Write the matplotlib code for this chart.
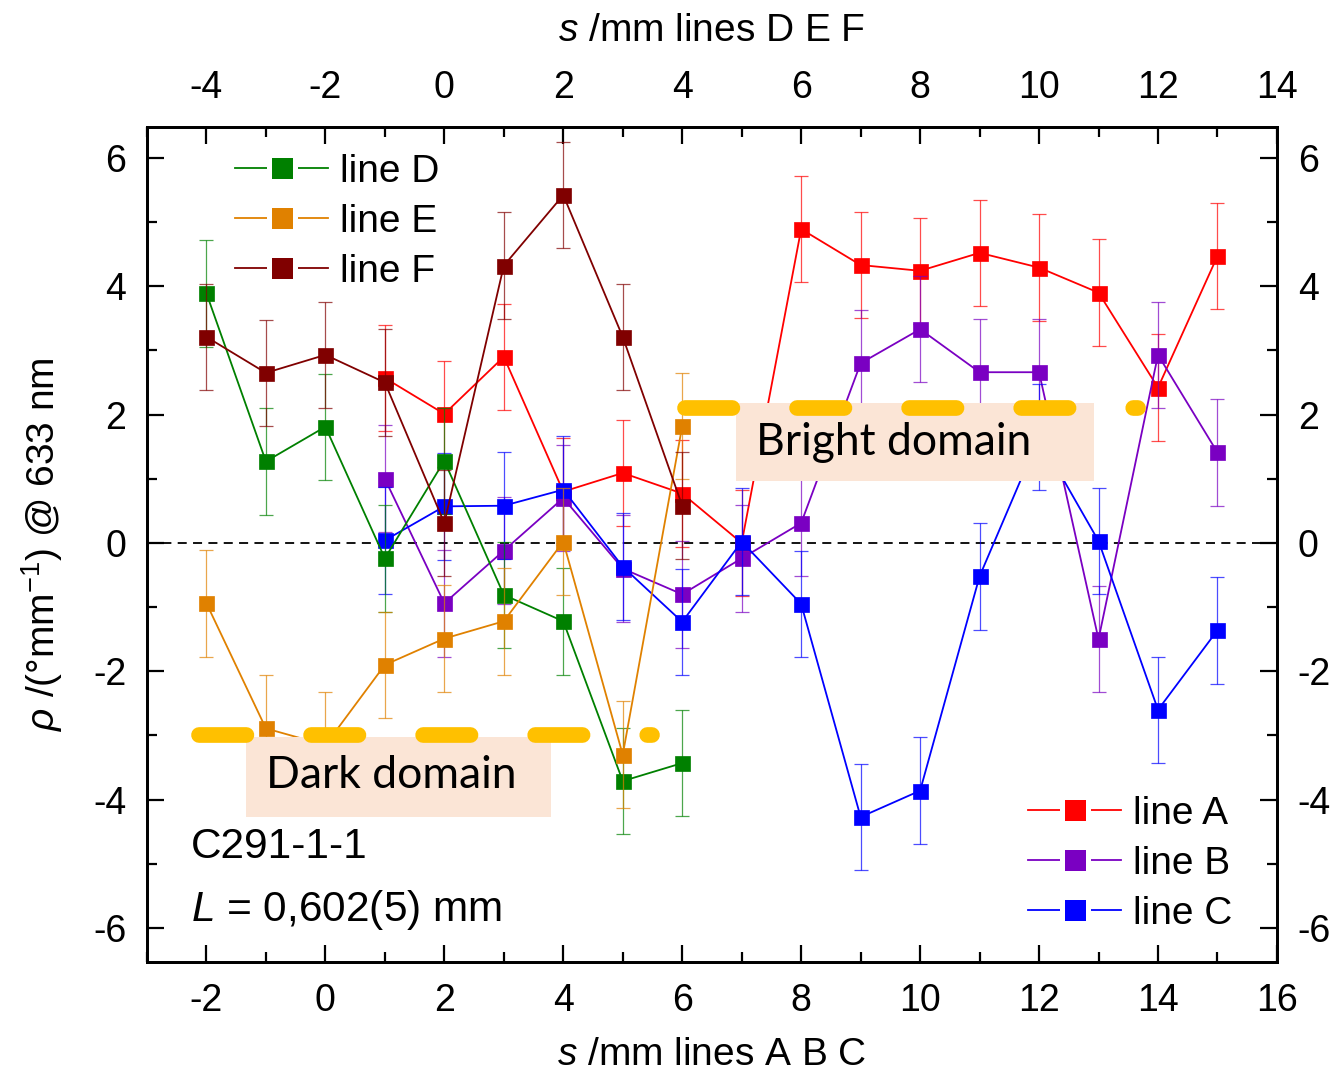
import matplotlib

matplotlib.use("Agg")
import matplotlib.pyplot as plt
from matplotlib.lines import Line2D
from matplotlib.patches import Rectangle
from matplotlib.ticker import MultipleLocator


# lines A, B, C -> bottom axis (s in mm)
S_ABC = [1, 2, 3, 4, 5, 6, 7, 8, 9, 10, 11, 12, 13, 14, 15]
RHO_A = [2.57, 2.01, 2.90, 0.80, 1.09, 0.77, 0.00, 4.89, 4.33, 4.24, 4.52, 4.29, 3.90, 2.42, 4.47]
RHO_B = [1.00, -0.94, -0.12, 0.70, -0.40, -0.80, -0.24, 0.31, 2.80, 3.33, 2.66, 2.66, -1.50, 2.93, 1.41]
RHO_C = [0.04, 0.57, 0.58, 0.83, -0.37, -1.23, 0.02, -0.95, -4.27, -3.86, -0.52, 1.65, 0.03, -2.60, -1.36]

# lines D, E, F -> top axis (s in mm)
S_DEF = [-4, -3, -2, -1, 0, 1, 2, 3, 4]
RHO_D = [3.89, 1.27, 1.81, -0.24, 1.28, -0.81, -1.22, -3.71, -3.43]
RHO_E = [-0.94, -2.89, -3.15, -1.90, -1.49, -1.22, 0.02, -3.30, 1.82]
RHO_F = [3.21, 2.65, 2.93, 2.50, 0.31, 4.32, 5.42, 3.21, 0.58]

RHO_ERR = 0.83

COLORS = {
    "A": "#FF0000",
    "B": "#7A00C2",
    "C": "#0000FF",
    "D": "#008000",
    "E": "#E08100",
    "F": "#800000",
}
GOLD = "#FFC000"
PEACH = "#FBE5D6"

plt.rcParams.update(
    {
        "font.family": "Liberation Sans",
        "mathtext.fontset": "custom",
        "mathtext.rm": "Liberation Sans",
        "mathtext.it": "Liberation Sans:italic",
        "mathtext.bf": "Liberation Sans:bold",
        "axes.unicode_minus": False,
        "axes.linewidth": 2.0,
    }
)


def draw_series(ax, s, rho, color, z):
    ax.errorbar(s, rho, yerr=RHO_ERR, fmt="none", ecolor=color, elinewidth=0.9,
                capsize=4.7, capthick=0.9, alpha=0.7, zorder=z)
    ax.plot(s, rho, color=color, lw=1.3, marker="s", ms=10.8, mfc=color,
            mec=color, mew=0.5, zorder=z + 0.5)


def legend_handle(color):
    line = Line2D([], [], color=color, lw=1.3)
    mark = Line2D([], [], ls="none", marker="s", ms=19.2, mfc=color, mec="white", mew=3.6)
    return (line, mark)


fig = plt.figure(figsize=(13.36, 10.73), dpi=100)
ax = fig.add_subplot(111)
fig.subplots_adjust(left=0.110, right=0.9558, top=0.8816, bottom=0.1034)
ax2 = ax.twiny()

ax.axhline(0, color="black", lw=1.3, ls=(0, (5, 3.5)), zorder=1)

draw_series(ax, S_ABC, RHO_A, COLORS["A"], 2)
draw_series(ax, S_ABC, RHO_B, COLORS["B"], 3)
draw_series(ax, S_ABC, RHO_C, COLORS["C"], 4)
draw_series(ax2, S_DEF, RHO_D, COLORS["D"], 2)
draw_series(ax2, S_DEF, RHO_E, COLORS["E"], 3)
draw_series(ax2, S_DEF, RHO_F, COLORS["F"], 4)

ax.set_xlim(-3, 16)
ax2.set_xlim(-5, 14)
ax.set_ylim(-6.53, 6.48)

# domain labels (boxes + thick gold dashes), placed in bottom-axis coordinates
ax2.add_patch(Rectangle((-1.337, -4.27), 5.137, 1.25, facecolor=PEACH, edgecolor="none",
                        transform=ax.transData, zorder=6))
ax2.add_patch(Rectangle((6.91, 0.97), 6.01, 1.21, facecolor=PEACH, edgecolor="none",
                        transform=ax.transData, zorder=6))
ax2.text(1.10, -3.63, "Dark domain", family="Lato", fontsize=32, ha="center", va="center",
         transform=ax.transData, zorder=7)
ax2.text(9.56, 1.56, "Bright domain", family="Lato", fontsize=32, ha="center", va="center",
         transform=ax.transData, zorder=7)
for x0, x1, yv in [(-2.126, 5.50, -3.0), (6.05, 13.67, 2.10)]:
    ax2.plot([x0, x1], [yv, yv], color=GOLD, lw=11.3, ls=(0, (3.02, 4.12)),
             dash_capstyle="round", solid_capstyle="round", transform=ax.transData, zorder=8)

# ticks
for a in (ax.xaxis, ax.yaxis, ax2.xaxis):
    a.set_major_locator(MultipleLocator(2))
    a.set_minor_locator(MultipleLocator(1))
ax.tick_params(which="both", direction="in", top=False, right=True, labelright=True,
               width=1.6, labelsize=27, pad=15)
ax.tick_params(which="major", length=12)
ax.tick_params(which="minor", length=7)
ax2.tick_params(which="both", direction="in", top=True, bottom=False, width=1.6,
                labelsize=27, pad=15)
ax2.tick_params(which="major", length=12)
ax2.tick_params(which="minor", length=7)
for sp in ax2.spines.values():
    sp.set_linewidth(2.0)

ax.set_xlabel(r"$s$ /mm lines A B C", fontsize=28, labelpad=13)
ax2.set_xlabel(r"$s$ /mm lines D E F", fontsize=28, labelpad=21)
ax.set_ylabel(r"$\rho$ /(°mm$^{-1}$) @ 633 nm", fontsize=28, labelpad=20)

ax.text(0.039, 0.138, "C291-1-1", transform=ax.transAxes, fontsize=30.5, va="center")
ax.text(0.039, 0.062, r"$L$ = 0,602(5) mm", transform=ax.transAxes, fontsize=30.5,
        va="center")

leg1 = ax2.legend([legend_handle(COLORS[k]) for k in "DEF"], ["line D", "line E", "line F"],
                  loc="upper left", bbox_to_anchor=(0.078, 0.968), frameon=False,
                  fontsize=28, handlelength=2.4, handletextpad=0.3, labelspacing=0.36,
                  borderpad=0, borderaxespad=0)
leg1.set_zorder(10)
leg2 = ax2.legend([legend_handle(COLORS[k]) for k in "ABC"], ["line A", "line B", "line C"],
                  loc="lower left", bbox_to_anchor=(0.7796, 0.036), frameon=False,
                  fontsize=28, handlelength=2.4, handletextpad=0.3, labelspacing=0.36,
                  borderpad=0, borderaxespad=0)
leg2.set_zorder(10)
ax2.add_artist(leg1)

fig.savefig("out.png", dpi=100)
